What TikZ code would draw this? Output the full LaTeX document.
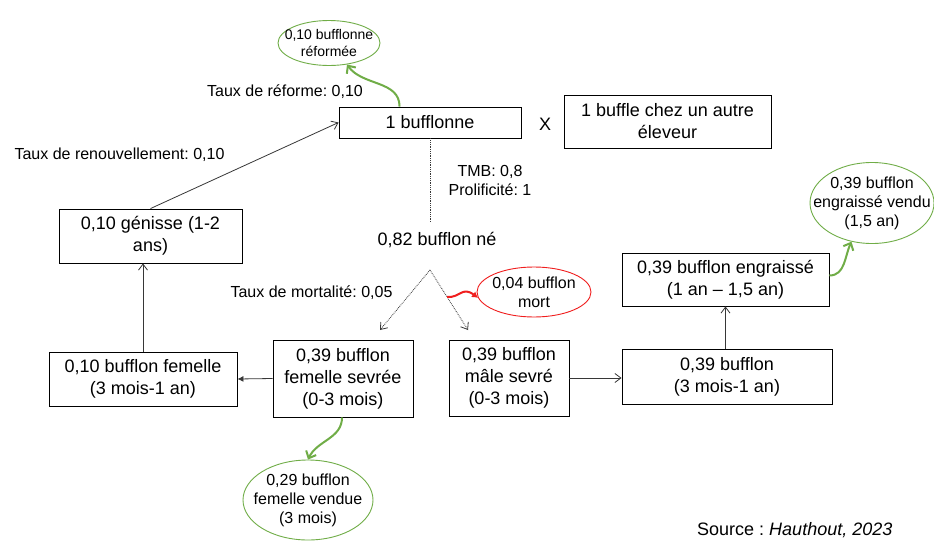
\documentclass[tikz,border=0pt]{standalone}
\usepackage{fontspec}
\setmainfont{Liberation Sans}
\usetikzlibrary{shapes.geometric,arrows.meta,calc}
\definecolor{leafgreen}{RGB}{112,173,71}
\definecolor{linegray}{RGB}{55,55,55}
\definecolor{losered}{RGB}{240,30,30}
\frenchspacing
\begin{document}
\begin{tikzpicture}[x=1pt,y=-1pt,
  box/.style={draw=black, line width=0.9pt, rectangle, inner sep=0pt, align=center,
    font=\fontsize{18}{22}\selectfont},
  lbl/.style={align=center, inner sep=0pt, font=\fontsize{16}{19}\selectfont},
  bigtxt/.style={align=center, inner sep=0pt, font=\fontsize{18}{22}\selectfont},
  ovalg/.style={ellipse, draw=leafgreen, line width=0.9pt, inner sep=0pt},
  ovalr/.style={ellipse, draw=losered, line width=0.9pt, inner sep=0pt},
  flow/.style={draw=linegray, line width=0.8pt, -{Straight Barb[length=6pt,width=9pt]}},
  flowfill/.style={draw=linegray, line width=0.8pt, -{Latex[length=6pt,width=6pt]}},
  dotflow/.style={draw=linegray, line width=0.8pt, densely dotted},
  exitg/.style={draw=leafgreen, line width=2pt, -{Straight Barb[length=6pt,width=11pt]}},
  exitr/.style={draw=losered, line width=2pt, -{Latex[length=6pt,width=7pt]}},
]
\clip (0,0) rectangle (934,541);
\fill[white] (0,0) rectangle (934,541);

% boxes
\node[box, minimum width=182pt, minimum height=31pt] (mother) at (430,122.5) {1 bufflonne};
\node[box, minimum width=207pt, minimum height=53pt] (other) at (667.5,121.5) {1 buffle chez un autre\\éleveur};
\node[bigtxt] (cross) at (545,124) {X};
\node[box, minimum width=183pt, minimum height=54pt] (heifer) at (150.5,236) {0,10 génisse (1-2\\ans)};
\node[box, minimum width=188pt, minimum height=54pt] (youngf) at (143,379) {0,10 bufflon femelle\\(3 mois-1 an)};
\node[box, minimum width=140pt, minimum height=77pt] (weanf) at (343,378.5) {0,39 bufflon\\femelle sevrée\\(0-3 mois)};
\node[box, minimum width=120pt, minimum height=76pt] (weanm) at (509,378) {0,39 bufflon\\mâle sevré\\(0-3 mois)};
\node[box, minimum width=210pt, minimum height=55pt] (youngm) at (727,376.5) {0,39 bufflon\\(3 mois-1 an)};
\node[box, minimum width=207pt, minimum height=53pt] (fatten) at (725.5,279.5) {0,39 bufflon engraissé\\(1 an -- 1,5 an)};

% free text
\node[bigtxt] (born) at (437,240) {0,82 bufflon né};
\node[lbl] (tmb) at (490,180) {TMB: 0,8\\Prolificité: 1};
\node[lbl] (cull) at (285,92) {Taux de réforme: 0,10};
\node[lbl] (renew) at (119.5,155) {Taux de renouvellement: 0,10};
\node[lbl] (mortal) at (311.5,293) {Taux de mortalité: 0,05};

% exits
\node[ovalg, minimum width=102pt, minimum height=45pt] (culled) at (329,43) {};
\node[align=center, inner sep=0pt, font=\fontsize{14}{17}\selectfont] at (culled) {0,10 bufflonne\\réformée};
\node[ovalr, minimum width=114pt, minimum height=50pt] (dead) at (534,292) {};
\node[lbl] at (dead) {0,04 bufflon\\mort};
\node[ovalg, minimum width=124pt, minimum height=81pt] (soldm) at (872,203) {};
\node[lbl] at (soldm) {0,39 bufflon\\engraissé vendu\\(1,5 an)};
\node[ovalg, minimum width=130pt, minimum height=80pt] (soldf) at (308,500) {};
\node[lbl] at (soldf) {0,29 bufflon\\femelle vendue\\(3 mois)};

% source
\node[anchor=base west, inner sep=0pt, font=\fontsize{18}{22}\selectfont] (src) at (697,535) {Source : \textit{Hauthout, 2023}};

% births
\coordinate (drop) at (430,222);
\coordinate (apex) at (430,270);
\coordinate (ftip) at (380,330);
\coordinate (mtip) at (468,330);
\draw[dotflow] (mother.south -| drop) -- (drop);
\draw[dotflow, -{Straight Barb[length=6pt,width=9pt]}] (apex) -- (ftip);
\draw[dotflow, -{Straight Barb[length=6pt,width=9pt]}] (apex) -- (mtip);
\coordinate (loss) at ($(apex)!0.45!(mtip)$);
\draw[exitr] (loss) .. controls (460,298) and (462,286) .. (dead.186);

% herd flows
\draw[flow] (heifer.north) -- (mother.west);
\draw[flow] (youngf.north) -- (youngf.north |- heifer.south);
\draw[flowfill] (weanf.west) -- (youngf.east);
\draw[flow] (weanm.east) -- (weanm.east -| youngm.west);
\draw[flow] (youngm.north -| fatten.south) -- (fatten.south);

% sales and culling
\draw[exitg] ($(mother.north west)+(61,0)$) to[out=90,in=-55] (culled.-50);
\draw[exitg] ($(weanf.south)+(-1,0)$) to[out=-90,in=65] (soldf.north);
\draw[exitg] ($(fatten.east)+(0,-4)$) to[out=0,in=-115] (soldm.-118);
\end{tikzpicture}
\end{document}
